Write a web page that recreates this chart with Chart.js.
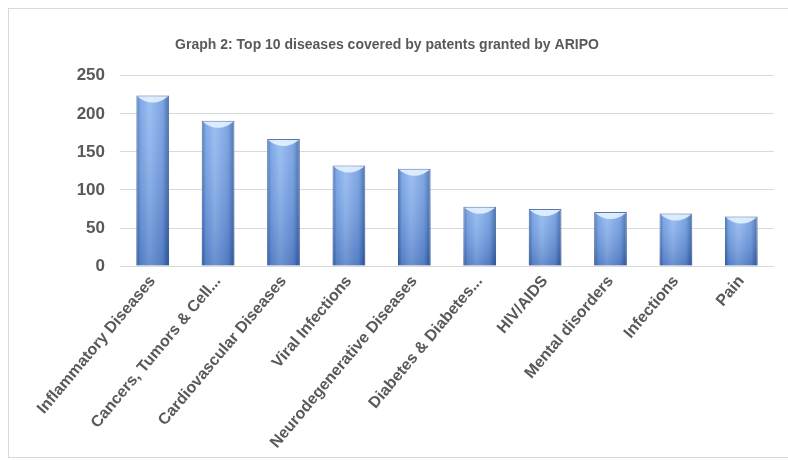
<!DOCTYPE html>
<html>
<head>
<meta charset="utf-8">
<script src="https://cdn.jsdelivr.net/npm/chart.js@4.4.1/dist/chart.umd.min.js"></script>
<style>
  html, body { margin: 0; padding: 0; background: #fff; }
  #wrap { position: absolute; left: 0; top: 0; width: 788px; height: 461px; }
</style>
</head>
<body>
<div id="wrap"><canvas id="c" width="788" height="461"></canvas></div>
<script>
const categories = [
  "Inflammatory Diseases",
  "Cancers, Tumors & Cell...",
  "Cardiovascular Diseases",
  "Viral Infections",
  "Neurodegenerative Diseases",
  "Diabetes & Diabetes...",
  "HIV/AIDS",
  "Mental disorders",
  "Infections",
  "Pain"
];
const patentCounts = [224, 191, 167, 132, 128, 78, 75, 71, 69, 65];
const yTicks = [0, 50, 100, 150, 200, 250];
const chartTitle = "Graph 2: Top 10 diseases covered by patents granted by ARIPO";

const FONT = "'Liberation Sans', Arial, sans-serif";
const TEXT = '#595959';

const framePlugin = {
  id: 'frame',
  beforeDraw(chart) {
    const ctx = chart.ctx;
    ctx.save();
    ctx.strokeStyle = '#d9d9d9';
    ctx.lineWidth = 1;
    ctx.strokeRect(8.5, 8.5, 800, 449);
    ctx.restore();
  }
};

const barShadePlugin = {
  id: 'barShade',
  afterDatasetsDraw(chart) {
    const ctx = chart.ctx;
    const meta = chart.getDatasetMeta(0);
    ctx.save();
    meta.data.forEach(bar => {
      const left = bar.x - bar.width / 2;
      const top = bar.y;
      const h = bar.base - bar.y;
      const g = ctx.createLinearGradient(0, top, 0, bar.base);
      g.addColorStop(0, 'rgba(255,255,255,0.15)');
      g.addColorStop(1, 'rgba(20,50,120,0.28)');
      ctx.fillStyle = g;
      ctx.fillRect(left, top, bar.width, h);
      ctx.beginPath();
      ctx.moveTo(left + 1, top + 1);
      ctx.lineTo(left + bar.width - 1, top + 1);
      ctx.quadraticCurveTo(left + bar.width * 0.75, top + 7, bar.x, top + 7);
      ctx.quadraticCurveTo(left + bar.width * 0.25, top + 7, left + 1, top + 1);
      ctx.closePath();
      ctx.fillStyle = 'rgba(228,242,255,0.9)';
      ctx.fill();
    });
    ctx.restore();
  }
};

new Chart(document.getElementById('c'), {
  type: 'bar',
  data: {
    labels: categories,
    datasets: [{
      data: patentCounts,
      backgroundColor: (c) => {
        const chart = c.chart;
        if (!chart.chartArea || !chart.scales.x) return '#6d9be0';
        const xs = chart.scales.x;
        const cx = xs.getPixelForValue(c.dataIndex);
        const w = xs.width / categories.length * 0.5;
        const g = chart.ctx.createLinearGradient(cx - w / 2, 0, cx + w / 2, 0);
        g.addColorStop(0, '#335fa8');
        g.addColorStop(0.12, '#6a9ae2');
        g.addColorStop(0.4, '#8cb5f1');
        g.addColorStop(0.8, '#6896de');
        g.addColorStop(1, '#2f5a9f');
        return g;
      },
      borderColor: '#3b62a0',
      borderWidth: 1,
      categoryPercentage: 1.0,
      barPercentage: 0.5
    }]
  },
  options: {
    responsive: false,
    animation: false,
    layout: { padding: { left: 0, right: 14, top: 10, bottom: 3 } },
    plugins: {
      legend: { display: false },
      tooltip: { enabled: false },
      title: {
        display: true,
        text: chartTitle,
        color: TEXT,
        font: { family: FONT, size: 14, weight: 'bold' },
        padding: { top: 27, bottom: 22 }
      }
    },
    scales: {
      x: {
        grid: { display: false, drawTicks: false },
        border: { display: false },
        ticks: {
          color: TEXT,
          font: { family: FONT, size: 16, weight: 'bold' },
          maxRotation: 50,
          minRotation: 50,
          autoSkip: false,
          padding: 6
        }
      },
      y: {
        min: 0,
        max: 250,
        afterBuildTicks: (axis) => { axis.ticks = yTicks.map(v => ({ value: v })); },
        afterFit: (axis) => { axis.width = 120; },
        grid: { color: '#d9d9d9', drawTicks: false },
        border: { display: false },
        ticks: {
          color: TEXT,
          font: { family: FONT, size: 17, weight: 'bold' },
          padding: 15
        }
      }
    }
  },
  plugins: [framePlugin, barShadePlugin]
});
</script>
</body>
</html>
